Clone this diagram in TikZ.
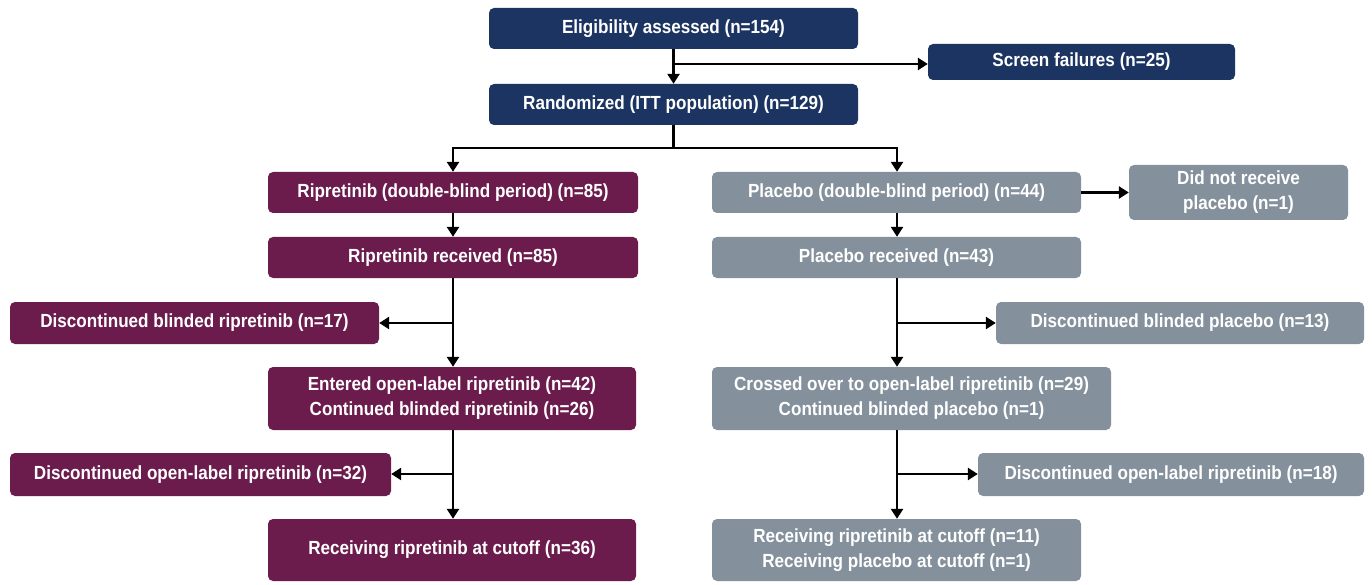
\documentclass[tikz,border=0pt]{standalone}
\usepackage{fontspec}
\setmainfont[FakeStretch=0.9]{Liberation Sans}
\usetikzlibrary{arrows.meta}
\definecolor{navy}{HTML}{1C3461}
\definecolor{plum}{HTML}{6B1C4D}
\definecolor{slate}{HTML}{84919C}
\tikzset{
  fbox/.style={rounded corners=5pt, inner sep=0pt, align=center, text=white,
    font=\fontsize{19}{25}\selectfont\bfseries},
  nv/.style={fbox, fill=navy},
  pl/.style={fbox, fill=plum},
  gy/.style={fbox, fill=slate},
  conn/.style={line width=2.8pt, draw=black},
  arr/.style={conn, -{Triangle[width=12pt,length=10pt]}},
}
\begin{document}
\begin{tikzpicture}[x=1pt,y=-1pt]
\useasboundingbox (0,0) rectangle (1372,585);
\fill[white] (0,0) rectangle (1372,585);
% top
\node[nv, minimum width=369pt, minimum height=41pt] (elig) at (673.5,28.5) {Eligibility assessed (n=154)};
\node[nv, minimum width=307pt, minimum height=36pt] (screen) at (1081.5,62) {Screen failures (n=25)};
\node[nv, minimum width=369pt, minimum height=41pt] (rand) at (673.5,104.5) {Randomized (ITT population) (n=129)};
% ripretinib arm
\node[pl, minimum width=370pt, minimum height=41pt] (ripDB) at (453,192.5) {Ripretinib (double-blind period) (n=85)};
\node[pl, minimum width=370pt, minimum height=41pt] (ripRec) at (453,257.5) {Ripretinib received (n=85)};
\node[pl, minimum width=369pt, minimum height=42pt] (discB) at (194.5,323) {Discontinued blinded ripretinib (n=17)};
\node[pl, minimum width=368pt, minimum height=63pt] (entered) at (452,398.5) {Entered open-label ripretinib (n=42)\\Continued blinded ripretinib (n=26)};
\node[pl, minimum width=381pt, minimum height=43pt] (discOL) at (200.5,474.5) {Discontinued open-label ripretinib (n=32)};
\node[pl, minimum width=368pt, minimum height=62pt] (ripCut) at (452,550) {Receiving ripretinib at cutoff (n=36)};
% placebo arm
\node[gy, minimum width=369pt, minimum height=41pt] (plDB) at (896.5,192.5) {Placebo (double-blind period) (n=44)};
\node[gy, minimum width=219pt, minimum height=55pt] (didnot) at (1238.5,192.5) {Did not receive\\placebo (n=1)};
\node[gy, minimum width=369pt, minimum height=41pt] (plRec) at (896.5,257.5) {Placebo received (n=43)};
\node[gy, minimum width=368pt, minimum height=42pt] (discBP) at (1180,323) {Discontinued blinded placebo (n=13)};
\node[gy, minimum width=399pt, minimum height=63pt] (crossed) at (911.5,398.5) {Crossed over to open-label ripretinib (n=29)\\Continued blinded placebo (n=1)};
\node[gy, minimum width=386pt, minimum height=43pt] (discOLP) at (1171,474.5) {Discontinued open-label ripretinib (n=18)};
\node[gy, minimum width=369pt, minimum height=62pt] (plCut) at (896.5,550) {Receiving ripretinib at cutoff (n=11)\\Receiving placebo at cutoff (n=1)};
% coordinates
\coordinate (lx) at (453,0);
\coordinate (rx) at (897,0);
\coordinate (split) at (673.5,148);
\coordinate (e1) at (673.5,64);
\coordinate (b1) at (453,323);
\coordinate (b2) at (453,474);
\coordinate (b3) at (897,323);
\coordinate (b4) at (897,474);
% connectors
\draw[arr] (elig.south) -- (rand.north);
\draw[arr] (e1) -- (e1 -| screen.west);
\draw[conn] (rand.south) -- (split);
\draw[arr] (split) -| (ripDB.north);
\draw[arr] (split) -| (plDB.north -| rx);
\draw[arr] (ripDB.south) -- (ripRec.north);
\draw[arr] (ripRec.south) -- (entered.north -| lx);
\draw[arr] (b1) -- (b1 -| discB.east);
\draw[arr] (entered.south -| lx) -- (ripCut.north -| lx);
\draw[arr] (b2) -- (b2 -| discOL.east);
\draw[arr] (plDB.east) -- (didnot.west |- plDB.east);
\draw[arr] (plDB.south -| rx) -- (plRec.north -| rx);
\draw[arr] (plRec.south -| rx) -- (crossed.north -| rx);
\draw[arr] (b3) -- (b3 -| discBP.west);
\draw[arr] (crossed.south -| rx) -- (plCut.north -| rx);
\draw[arr] (b4) -- (b4 -| discOLP.west);
\end{tikzpicture}
\end{document}
